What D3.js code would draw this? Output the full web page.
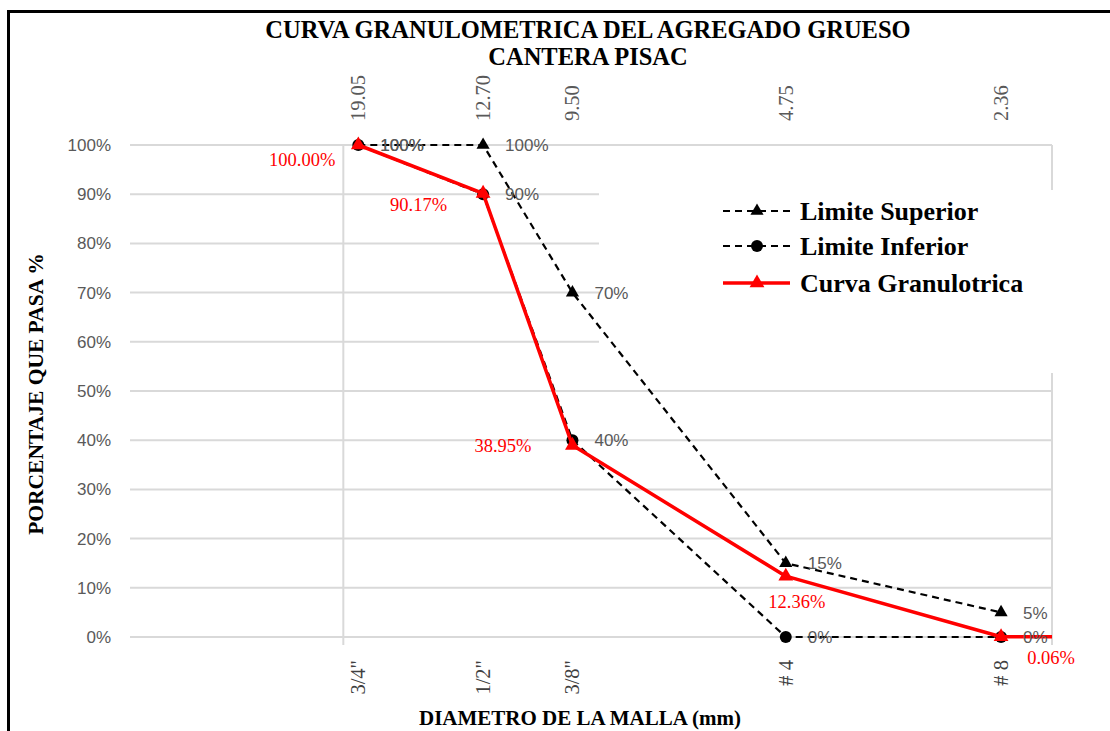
<!DOCTYPE html>
<html><head><meta charset="utf-8">
<script src="https://cdn.jsdelivr.net/npm/d3@7"></script>
<style>html,body{margin:0;padding:0;background:#fff;}svg{display:block;}</style>
</head><body>
<script>
// ---- data ----
const sizes = [19.05, 12.70, 9.50, 4.75, 2.36];
const sizeLabels = ["19.05", "12.70", "9.50", "4.75", "2.36"];
const sieveLabels = ['3/4"', '1/2"', '3/8"', '# 4', '# 8'];
const limiteSuperior = [100, 100, 70, 15, 5];
const limiteInferior = [100, 90, 40, 0, 0];
const curvaSizes = [19.05, 12.70, 9.50, 4.75, 2.36, 1.18];
const curvaValues = [100.00, 90.17, 38.95, 12.36, 0.06, 0.00];
const yTicks = [0, 10, 20, 30, 40, 50, 60, 70, 80, 90, 100];
const xGridValues = [20, 2];
const seriesNames = ["Limite Superior", "Limite Inferior", "Curva Granulotrica"];

// ---- style: red label placement (offsets from point) ----
const curvaLabelStyle = [
  {dx: -23, dy: 21, anchor: "end"},
  {dx: -36, dy: 18, anchor: "end"},
  {dx: -41, dy: 7, anchor: "end"},
  {dx: 11, dy: 32, anchor: "middle"},
  {dx: 50, dy: 27, anchor: "middle"}
];

const W = 1110, H = 731;
const svg = d3.select("body").append("svg").attr("width", W).attr("height", H);
svg.append("rect").attr("width", W).attr("height", H).attr("fill", "#fff");
svg.append("rect").attr("x", 8.5).attr("y", 11.5).attr("width", W + 20).attr("height", H + 20)
  .attr("fill", "none").attr("stroke", "#000").attr("stroke-width", 3);

const x = d3.scaleLog().domain([40, 2]).range([130, 1052]);
const y = d3.scaleLinear().domain([0, 100]).range([637, 145]);
const grid = "#d9d9d9", gray = "#595959";
const serif = "'Liberation Serif','Times New Roman',serif";
const sans = "'Liberation Sans',Arial,sans-serif";

// gridlines
svg.append("g").selectAll("line").data(yTicks).join("line")
  .attr("x1", x(40)).attr("x2", x(2)).attr("y1", d => y(d)).attr("y2", d => y(d))
  .attr("stroke", grid).attr("stroke-width", 2);
svg.append("g").selectAll("line").data(xGridValues).join("line")
  .attr("x1", d => x(d)).attr("x2", d => x(d)).attr("y1", y(100)).attr("y2", y(0) + 8)
  .attr("stroke", grid).attr("stroke-width", 2);

// y tick labels
svg.append("g").selectAll("text").data(yTicks).join("text")
  .attr("x", 111).attr("y", d => y(d)).attr("dy", "0.35em").attr("text-anchor", "end")
  .attr("font-family", sans).attr("font-size", 17).attr("fill", gray)
  .text(d => d + "%");

// top labels (mm)
svg.append("g").selectAll("text").data(sizes).join("text")
  .attr("transform", d => `translate(${x(d) + 7},121) rotate(-90)`)
  .attr("text-anchor", "start")
  .attr("font-family", serif).attr("font-size", 20.5).attr("fill", gray)
  .text((d, i) => sizeLabels[i]);

// bottom labels (sieves)
svg.append("g").selectAll("text").data(sizes).join("text")
  .attr("transform", d => `translate(${x(d) + 7},660) rotate(-90)`)
  .attr("text-anchor", "end")
  .attr("font-family", serif).attr("font-size", 20.5).attr("fill", "#404040")
  .text((d, i) => sieveLabels[i]);

// titles
svg.append("text").attr("x", 588).attr("y", 38).attr("text-anchor", "middle")
  .attr("font-family", serif).attr("font-weight", "bold").attr("font-size", 24.5)
  .text("CURVA GRANULOMETRICA DEL AGREGADO GRUESO");
svg.append("text").attr("x", 588).attr("y", 65).attr("text-anchor", "middle")
  .attr("font-family", serif).attr("font-weight", "bold").attr("font-size", 24.5)
  .text("CANTERA PISAC");
svg.append("text").attr("transform", "translate(43,394) rotate(-90)").attr("text-anchor", "middle")
  .attr("font-family", serif).attr("font-weight", "bold").attr("font-size", 21.5)
  .text("PORCENTAJE QUE PASA %");
svg.append("text").attr("x", 580).attr("y", 725).attr("text-anchor", "middle")
  .attr("font-family", serif).attr("font-weight", "bold").attr("font-size", 21)
  .text("DIAMETRO DE LA MALLA (mm)");

// legend background (covers gridlines)
svg.append("rect").attr("x", 599).attr("y", 190).attr("width", 470).attr("height", 183).attr("fill", "#fff");

svg.append("clipPath").attr("id", "plotclip").append("rect")
  .attr("x", x(40)).attr("y", 0).attr("width", x(2) - x(40)).attr("height", H);

const line = d3.line().x(d => x(d[0])).y(d => y(d[1]));
const supData = sizes.map((s, i) => [s, limiteSuperior[i]]);
const infData = sizes.map((s, i) => [s, limiteInferior[i]]);
const curData = curvaSizes.map((s, i) => [s, curvaValues[i]]);

const tri = d3.symbol().type(d3.symbolTriangle);
const dash = "7,5";

svg.append("path").datum(supData).attr("d", line).attr("fill", "none")
  .attr("stroke", "#000").attr("stroke-width", 2.2).attr("stroke-dasharray", dash);
svg.append("path").datum(infData).attr("d", line).attr("fill", "none")
  .attr("stroke", "#000").attr("stroke-width", 2.2).attr("stroke-dasharray", dash);

svg.append("g").selectAll("path").data(supData).join("path")
  .attr("transform", d => `translate(${x(d[0])},${y(d[1])})`)
  .attr("d", tri.size(75)()).attr("fill", "#000");
svg.append("g").selectAll("circle").data(infData).join("circle")
  .attr("cx", d => x(d[0])).attr("cy", d => y(d[1])).attr("r", 6).attr("fill", "#000");

svg.append("path").datum(curData).attr("d", line).attr("fill", "none")
  .attr("clip-path", "url(#plotclip)")
  .attr("stroke", "#ff0000").attr("stroke-width", 3.5).attr("stroke-linejoin", "round");
svg.append("g").selectAll("path").data(curData.slice(0, sizes.length)).join("path")
  .attr("transform", d => `translate(${x(d[0])},${y(d[1])})`)
  .attr("d", tri.size(95)()).attr("fill", "#ff0000");

// gray data labels
const lblG = svg.append("g").attr("font-family", sans).attr("font-size", 17).attr("fill", gray);
lblG.selectAll("text.sup").data(supData).join("text").attr("class", "sup")
  .attr("x", d => x(d[0]) + 22).attr("y", d => y(d[1])).attr("dy", "0.37em")
  .text(d => d[1] + "%");
lblG.selectAll("text.inf").data(infData).join("text").attr("class", "inf")
  .attr("x", d => x(d[0]) + 22).attr("y", d => y(d[1])).attr("dy", "0.37em")
  .text(d => d[1] + "%");

// red data labels
svg.append("g").selectAll("text").data(curData.slice(0, sizes.length)).join("text")
  .attr("x", (d, i) => x(d[0]) + curvaLabelStyle[i].dx)
  .attr("y", (d, i) => y(d[1]) + curvaLabelStyle[i].dy)
  .attr("text-anchor", (d, i) => curvaLabelStyle[i].anchor)
  .attr("font-family", serif).attr("font-size", 18.5).attr("fill", "#ff0000")
  .text(d => d[1].toFixed(2) + "%");

// legend
const leg = svg.append("g").attr("transform", "translate(723,211)");
const rows = leg.selectAll("g").data(seriesNames).join("g")
  .attr("transform", (d, i) => `translate(0,${[0, 35, 72][i]})`);
rows.append("line").attr("x1", 0).attr("x2", 67).attr("y1", 0).attr("y2", 0)
  .attr("stroke", (d, i) => i === 2 ? "#ff0000" : "#000")
  .attr("stroke-width", (d, i) => i === 2 ? 3.5 : 2.2)
  .attr("stroke-dasharray", (d, i) => i === 2 ? null : dash);
rows.each(function (d, i) {
  const g = d3.select(this);
  if (i === 1) g.append("circle").attr("cx", 34).attr("cy", 0).attr("r", 6).attr("fill", "#000");
  else g.append("path").attr("transform", "translate(34,0)").attr("d", tri.size(i === 2 ? 95 : 75)())
    .attr("fill", i === 2 ? "#ff0000" : "#000");
});
rows.append("text").attr("x", 77).attr("y", 0).attr("dy", "0.33em")
  .attr("font-family", serif).attr("font-weight", "bold").attr("font-size", 26)
  .text(d => d);
</script>
</body></html>
